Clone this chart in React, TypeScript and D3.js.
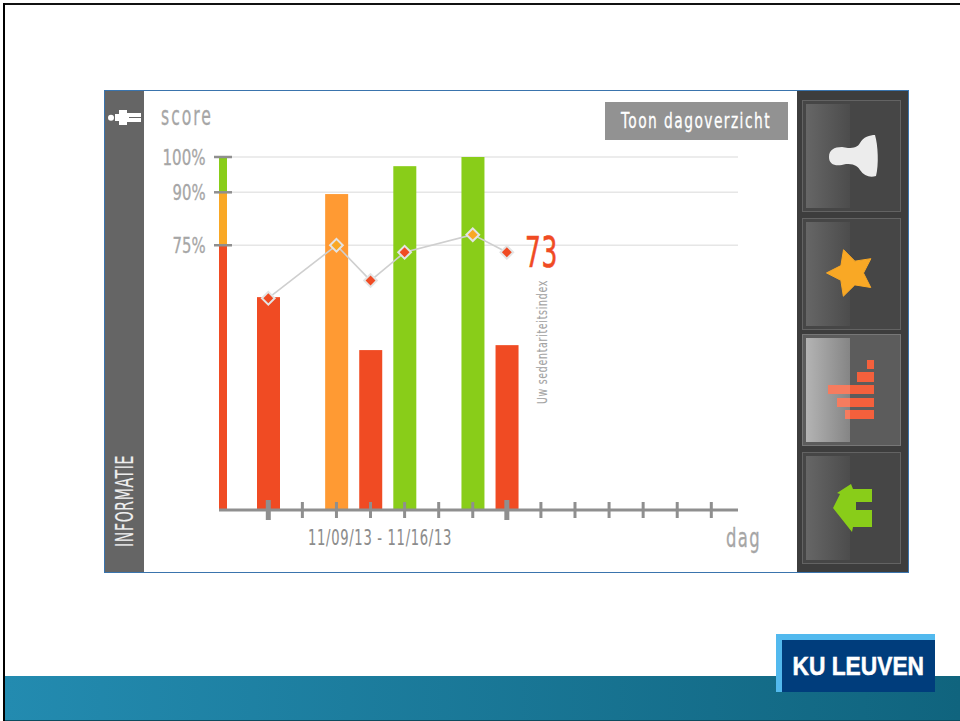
import React, { useEffect, useRef } from "react";
import * as d3 from "d3";

// days on the x axis, the two days with no bar or point are simply left out
const dayTicks = d3.range(0, 14);
const majorTicks = [0, 7];
const barDays = [0, 2, 3, 4, 6, 7];
const barScores = [60.3, 89.5, 45.3, 97.4, 100, 46.7];
const lineDays = [0, 2, 3, 4, 6, 7];
const lineScores = [60, 75, 65, 73, 78, 73];
const yTicks = [100, 90, 75];
const yLabels = ["100%", "90%", "75%"];
const yLabelWidths = [43, 33, 33];
const gaugeLows = [0, 75, 90];
const gaugeHighs = [75, 90, 100];

const RED = "#f04b23";
const ORANGE = "#ff9a33";
const AMBER = "#f9a825";
const GREEN = "#89cd19";
const GREY = "#8f8f8f";
const FONT = "'Liberation Sans Narrow', 'DejaVu Sans Condensed', 'Open Sans', sans-serif";

const width = 960;
const height = 721;

const colorFor = (v: number) => (v >= 90 ? GREEN : v >= 75 ? ORANGE : RED);
const gaugeColor = (v: number) => (v >= 90 ? GREEN : v >= 75 ? AMBER : RED);

const x = d3.scaleLinear().domain([0, 13]).range([268.3, 711.3]);
const y = d3.scaleLinear().domain([0, 100]).range([510, 157]);

const buttonTops = [100, 218, 334, 452];

export default function App() {
  const svgRef = useRef<SVGSVGElement>(null);

  useEffect(() => {
    const svg = d3.select(svgRef.current);
    svg.selectAll("*").remove();

    const label = (
      str: string,
      tf: string,
      size: number,
      len: number,
      fill: string,
      spacing = 0,
      heavy = 0.3
    ) =>
      svg
        .append("text")
        .attr("transform", tf)
        .attr("fill", fill)
        .attr("stroke", fill)
        .attr("stroke-width", heavy)
        .attr("font-family", FONT)
        .attr("font-size", size)
        .attr("letter-spacing", spacing)
        .attr("textLength", len)
        .attr("lengthAdjust", "spacingAndGlyphs")
        .text(str);

    const defs = svg.append("defs");
    const band = defs.append("linearGradient").attr("id", "band");
    band.append("stop").attr("offset", "0%").attr("stop-color", "#238bb0");
    band.append("stop").attr("offset", "100%").attr("stop-color", "#10647e");
    const sheen = defs.append("linearGradient").attr("id", "sheen");
    sheen.append("stop").attr("offset", "0%").attr("stop-color", "#666");
    sheen.append("stop").attr("offset", "100%").attr("stop-color", "#4c4c4c");
    const sheenOn = defs.append("linearGradient").attr("id", "sheenOn");
    sheenOn.append("stop").attr("offset", "0%").attr("stop-color", "#b4b4b4");
    sheenOn.append("stop").attr("offset", "100%").attr("stop-color", "#858585");
    defs.append("clipPath").attr("id", "sheenClip")
      .append("rect").attr("x", 806).attr("y", 338).attr("width", 44).attr("height", 104);

    // slide
    svg.append("rect").attr("width", width).attr("height", height).attr("fill", "#fff");
    svg.append("rect").attr("x", 5).attr("y", 676).attr("width", width - 5).attr("height", 45).attr("fill", "url(#band)");
    svg.append("rect").attr("x", 5).attr("y", 720).attr("width", width - 5).attr("height", 1).attr("fill", "#0c4c5f");
    svg.append("rect").attr("x", 3).attr("y", 3).attr("width", width - 3).attr("height", 2).attr("fill", "#111");
    svg.append("rect").attr("x", 3).attr("y", 3).attr("width", 2).attr("height", height - 3).attr("fill", "#000");

    // logo
    svg.append("rect").attr("x", 776).attr("y", 634).attr("width", 159).attr("height", 58).attr("fill", "#52b9ee");
    svg.append("rect").attr("x", 782).attr("y", 640).attr("width", 153).attr("height", 52).attr("fill", "#003d7c");
    svg.append("text").attr("x", 792.5).attr("y", 675).attr("fill", "#fff").attr("stroke", "#fff").attr("stroke-width", 0.5)
      .attr("font-family", "'Liberation Sans', Arial, sans-serif").attr("font-weight", 700)
      .attr("font-size", 25).attr("textLength", 131.5).attr("lengthAdjust", "spacingAndGlyphs").text("KU LEUVEN");

    // app panel
    svg.append("rect").attr("x", 104.5).attr("y", 90.5).attr("width", 804).attr("height", 482).attr("fill", "#fff").attr("stroke", "#3a74ad");
    svg.append("rect").attr("x", 105).attr("y", 91).attr("width", 39).attr("height", 481).attr("fill", "#656565");
    svg.append("rect").attr("x", 797).attr("y", 91).attr("width", 111).attr("height", 481).attr("fill", "#3d3d3d");

    // person icon in the side strip
    svg.append("circle").attr("cx", 111).attr("cy", 117.7).attr("r", 3).attr("fill", "#fff");
    svg.append("path").attr("fill", "#fff")
      .attr("d", "M115 114 L119 114 L119 110 L127 110 L127 113 L141 113 L141 117 L129 117 L129 118 L141 118 L141 122 L127 122 L127 125 L119 125 L119 121 L115 121 Z");

    label("INFORMATIE", "translate(132.5,547) rotate(-90)", 24, 92, "#eee", 1, 0.1);

    // side buttons
    const btn = svg.append("g").selectAll("g").data(buttonTops).join("g");
    btn.append("rect").attr("x", 802.5).attr("y", (d) => d + 0.5).attr("width", 98).attr("height", 111)
      .attr("fill", (d, i) => (i === 2 ? "#5c5c5c" : "#464646")).attr("stroke", (d, i) => (i === 2 ? "#777" : "#636363"));
    btn.append("rect").attr("x", 806).attr("y", (d) => d + 4).attr("width", 44).attr("height", 104)
      .attr("fill", (d, i) => (i === 2 ? "url(#sheenOn)" : "url(#sheen)"));

    // seat icon
    svg.append("path").attr("fill", "#ececec")
      .attr("d", "M829 157 C829 150 834 147 842 147 L848 148 C854 148 858 147 860 143 C863 137 870 135 875 135 C878 145 879 165 876 176 C870 178 864 176 860 170 C857 165 853 164 846 164 C836 167 829 165 829 157 Z");
    // star icon
    const star = d3.range(10).map((i) => {
      const r = i % 2 === 0 ? 24.5 : 12.5;
      const a = (i * Math.PI) / 5 - Math.PI / 2 - 0.31;
      return [851 + r * Math.cos(a), 273 + r * Math.sin(a)];
    });
    svg.append("path").attr("fill", AMBER).attr("stroke", AMBER).attr("stroke-width", 1).attr("stroke-linejoin", "round")
      .attr("d", "M" + star.map((p) => p.join(",")).join("L") + "Z");
    // stepped bars icon
    const stepsPath = "M867 360 H874 V369 H867 Z M857 372 H874 V382 H857 Z M828 385 H874 V394 H828 Z M837 398 H874 V407 H837 Z M845 410 H874 V419 H845 Z";
    svg.append("path").attr("fill", "#f4603c").attr("d", stepsPath);
    svg.append("path").attr("fill", "#fff").attr("opacity", 0.18).attr("clip-path", "url(#sheenClip)").attr("d", stepsPath);
    // arrow icon
    svg.append("path").attr("fill", GREEN)
      .attr("d", "M851 484 L853 489 L872 489 L872 502 L856 502 L856 510 L872 510 L872 527 L853 527 L852 532 L833 508 L840 494 L837 493 Z");

    // grid
    svg.append("g").selectAll("line").data(yTicks).join("line")
      .attr("x1", 231).attr("x2", 738).attr("y1", (d) => y(d)).attr("y2", (d) => y(d))
      .attr("stroke", "#e6e6e6").attr("stroke-width", 1.5);

    // bars
    svg.append("g").selectAll("rect").data(barScores).join("rect")
      .attr("x", (d, i) => x(barDays[i]) - 11.3).attr("width", 23)
      .attr("y", (d) => y(d)).attr("height", (d) => y(0) - y(d))
      .attr("fill", (d) => colorFor(d));

    // gauge on the y axis
    svg.append("g").selectAll("rect").data(gaugeLows).join("rect")
      .attr("x", 219).attr("width", 8)
      .attr("y", (d, i) => y(gaugeHighs[i])).attr("height", (d, i) => y(d) - y(gaugeHighs[i]))
      .attr("fill", (d) => gaugeColor(d));
    svg.append("g").selectAll("line").data(yTicks).join("line")
      .attr("x1", 214).attr("x2", 232).attr("y1", (d) => y(d)).attr("y2", (d) => y(d))
      .attr("stroke", GREY).attr("stroke-width", 2.5);
    yTicks.forEach((d, i) => {
      label(yLabels[i], `translate(${205.5 - yLabelWidths[i]},${y(d) + 8})`, 21, yLabelWidths[i], "#a6a6a6");
    });

    // x axis
    svg.append("line").attr("x1", 219).attr("x2", 738).attr("y1", 510).attr("y2", 510).attr("stroke", GREY).attr("stroke-width", 3);
    svg.append("g").selectAll("line").data(dayTicks).join("line")
      .attr("x1", (d) => x(d)).attr("x2", (d) => x(d))
      .attr("y1", (d) => (majorTicks.includes(d) ? 500 : 502))
      .attr("y2", (d) => (majorTicks.includes(d) ? 520 : 518))
      .attr("stroke", GREY).attr("stroke-width", (d) => (majorTicks.includes(d) ? 5 : 3));

    // index line
    const line = d3.line<number>().x((d, i) => x(lineDays[i])).y((d) => y(d));
    svg.append("path").attr("d", line(lineScores)).attr("fill", "none").attr("stroke", "#cfcfcf").attr("stroke-width", 1.6);
    svg.append("g").selectAll("path").data(lineScores).join("path")
      .attr("transform", (d, i) => `translate(${x(lineDays[i])},${y(d)}) rotate(45)`)
      .attr("d", "M-4.5,-4.5H4.5V4.5H-4.5Z")
      .attr("fill", (d) => (d >= 75 ? AMBER : RED))
      .attr("stroke", "#e4e4e4").attr("stroke-width", 2);

    // labels
    label("73", "translate(525,267)", 42, 33, RED, 1, 0.6);
    label("Uw sedentariteitsindex", "translate(546.5,404) rotate(-90)", 14.5, 124, "#a3a3a3", 1, 0.1);
    label("score", "translate(161,125)", 26, 52, "#a6a6a6", 3);
    label("dag", "translate(726,547)", 27, 35, "#a6a6a6", 2);
    label("11/09/13 - 11/16/13", "translate(308,545)", 21, 144, "#8c8c8c", 1, 0.1);

    svg.append("rect").attr("x", 605).attr("y", 102).attr("width", 183).attr("height", 38).attr("fill", "#929292");
    label("Toon dagoverzicht", "translate(621,128)", 21, 150, "#fff", 2);
  }, []);

  return <svg ref={svgRef} width={width} height={height} style={{ position: "absolute", left: 0, top: 0 }} />;
}
